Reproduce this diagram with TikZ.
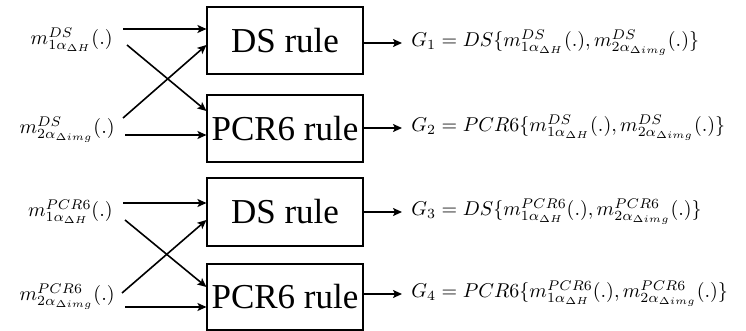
\documentclass[tikz,border=0pt]{standalone}
\usepackage{fontspec}
\newfontfamily\boxfont{Liberation Serif}
\usetikzlibrary{arrows.meta,calc}
\tikzset{
  rulebox/.style={draw, line width=1.1pt, minimum width=156pt, inner sep=0pt, font=\boxfont\fontsize{35}{40}\selectfont},
  lab/.style={inner sep=0pt, scale=2},
  arr/.style={line width=1.6pt, -{Stealth[length=9pt,width=8pt,inset=2pt]}},
}
\begin{document}
\begin{tikzpicture}[x=1pt,y=-1pt]
\useasboundingbox (0,0) rectangle (746,331);
% boxes
\node[rulebox, minimum height=67pt] (b1) at (285,40.5) {DS rule};
\node[rulebox, minimum height=67pt] (b2) at (285,128.5) {PCR6 rule};
\node[rulebox, minimum height=68pt] (b3) at (285,212) {DS rule};
\node[rulebox, minimum height=66pt] (b4) at (285,297) {PCR6 rule};
% left labels
\node[lab, anchor=east] (l1) at (113,40) {$m^{DS}_{1\alpha_{\Delta H}}(.)$};
\node[lab, anchor=east] (l2) at (115,130) {$m^{DS}_{2\alpha_{\Delta img}}(.)$};
\node[lab, anchor=east] (l3) at (113,212) {$m^{PCR6}_{1\alpha_{\Delta H}}(.)$};
\node[lab, anchor=east] (l4) at (115,297) {$m^{PCR6}_{2\alpha_{\Delta img}}(.)$};
% right labels
\node[lab, anchor=west] (r1) at (411,43) {$G_1=DS\{m^{DS}_{1\alpha_{\Delta H}}(.),m^{DS}_{2\alpha_{\Delta img}}(.)\}$};
\node[lab, anchor=west] (r2) at (411,128) {$G_2=PCR6\{m^{DS}_{1\alpha_{\Delta H}}(.),m^{DS}_{2\alpha_{\Delta img}}(.)\}$};
\node[lab, anchor=west] (r3) at (411,212) {$G_3=DS\{m^{PCR6}_{1\alpha_{\Delta H}}(.),m^{PCR6}_{2\alpha_{\Delta img}}(.)\}$};
\node[lab, anchor=west] (r4) at (411,294) {$G_4=PCR6\{m^{PCR6}_{1\alpha_{\Delta H}}(.),m^{PCR6}_{2\alpha_{\Delta img}}(.)\}$};
% input start points
\coordinate (s1a) at (123,29);
\coordinate (s1b) at (127,45);
\coordinate (s2a) at (123,118);
\coordinate (s2b) at (125,135);
\coordinate (s3a) at (123,203);
\coordinate (s3b) at (125,220);
\coordinate (s4a) at (122,293);
\coordinate (s4b) at (125,307);
% group 1
\draw[arr] (s1a) -- (b1.west |- s1a);
\draw[arr] (s1b) -- ($(b2.west)+(0,-17.5)$);
\draw[arr] (s2a) -- ($(b1.west)+(0,4.5)$);
\draw[arr] (s2b) -- (b2.west |- s2b);
% group 2
\draw[arr] (s3a) -- (b3.west |- s3a);
\draw[arr] (s3b) -- ($(b4.west)+(0,-10)$);
\draw[arr] (s4a) -- ($(b3.west)+(0,8)$);
\draw[arr] (s4b) -- (b4.west |- s4b);
% outputs
\draw[arr] (b1.east |- r1.west) -- ($(r1.west)+(-9,0)$);
\draw[arr] (b2.east |- r2.west) -- ($(r2.west)+(-9,0)$);
\draw[arr] (b3.east |- r3.west) -- ($(r3.west)+(-9,0)$);
\draw[arr] (b4.east |- r4.west) -- ($(r4.west)+(-9,0)$);
\end{tikzpicture}
\end{document}
